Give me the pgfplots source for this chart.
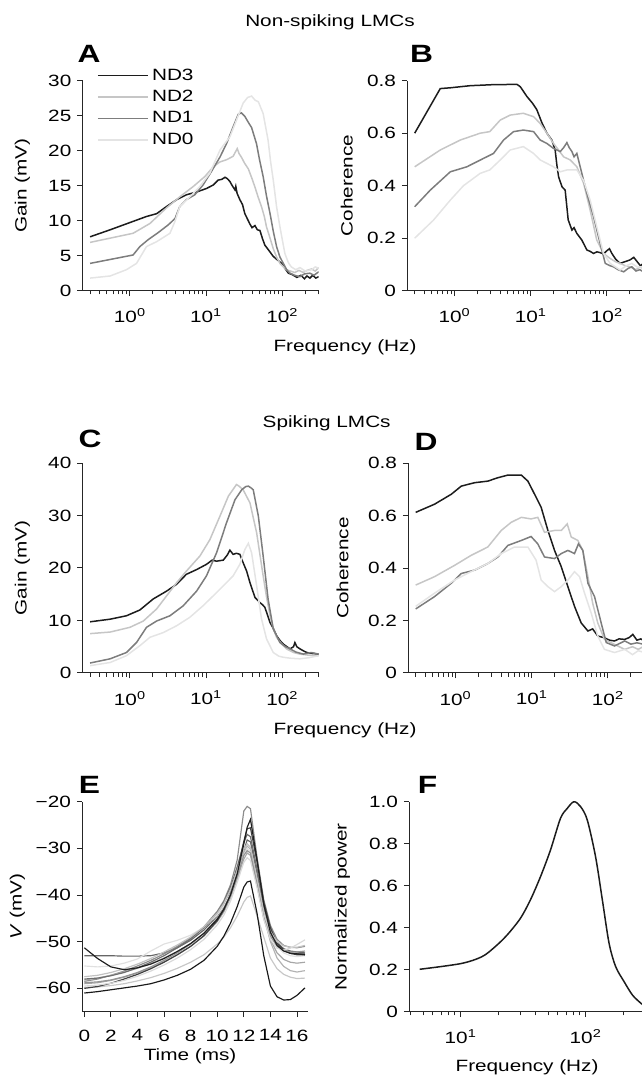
\documentclass[border=0pt]{standalone}
\usepackage{pgfplots}
\pgfplotsset{compat=1.18}
\usepackage{pgfplotstable}
\usepackage{fontspec}
\setmainfont{Liberation Sans}[FakeStretch=1.27]
\newcommand\tf{\fontsize{9.8}{11.8}\selectfont}
\definecolor{nd3}{HTML}{1C1C1C}
\definecolor{nd2}{HTML}{C6C6C6}
\definecolor{nd1}{HTML}{7D7D7D}
\definecolor{nd0}{HTML}{E4E4E4}
\pgfplotsset{
  panel/.style={scale only axis, axis lines=left, axis line style={-, line width=0.6pt, black!85},
    tick align=outside, tick style={line width=0.6pt, black!85}, major tick length=3.3pt, minor tick length=2.2pt,
    tick label style={font=\tf}, label style={font=\tf}, /pgf/number format/assume math mode=true, clip=true,
    xticklabel shift=4pt},
  freqax/.style={panel, xmin=0.24, xmax=300, width=141.6pt, height=126pt,
    xtick={1,10,100}, xticklabels={{10\textsuperscript{0}},{10\textsuperscript{1}},{10\textsuperscript{2}}},
    minor xtick={0.3,0.4,0.5,0.6,0.7,0.8,0.9,2,3,4,5,6,7,8,9,20,30,40,50,60,70,80,90,200,300}},
  s3/.style={color=nd3, line width=0.9pt},
  s2/.style={color=nd2, line width=0.9pt},
  s1/.style={color=nd1, line width=0.9pt},
  s0/.style={color=nd0, line width=0.9pt},
}
\pgfplotstableread{
t a b c d e f g h i j k l m
0 -61.0 -51.3 -53.0 -58.5 -59.8 -58.2 -55.2 -58.0 -59.0 -60.0 -57.5 -58.8 -59.5
1 -60.7 -53.6 -53.0 -58.0 -59.7 -57.8 -55.4 -57.8 -58.8 -59.6 -57.2 -58.6 -59.3
2 -60.3 -55.4 -53.0 -57.2 -59.4 -57.2 -55.2 -57.3 -58.3 -58.9 -56.6 -58.2 -58.9
3 -59.9 -56.0 -53.1 -56.3 -59.0 -56.5 -54.6 -56.6 -57.6 -58.0 -55.8 -57.5 -58.3
4 -59.5 -55.6 -53.1 -55.2 -58.4 -55.7 -53.7 -55.6 -56.7 -57.0 -54.8 -56.6 -57.4
5 -59.0 -54.8 -53.0 -54.0 -57.7 -54.7 -52.0 -54.4 -55.6 -55.8 -53.6 -55.4 -56.3
6 -58.2 -53.6 -52.4 -52.6 -56.8 -53.5 -50.5 -53.0 -54.3 -54.4 -52.2 -54.0 -55.0
7 -57.2 -52.1 -51.3 -51.0 -55.7 -52.1 -49.7 -51.3 -52.8 -52.8 -50.7 -52.4 -53.5
8 -55.9 -50.4 -49.7 -49.2 -54.4 -50.4 -48.6 -49.4 -51.0 -51.0 -49.0 -50.5 -51.7
9 -54.0 -48.2 -47.5 -46.8 -52.8 -48.2 -46.9 -47.0 -48.8 -48.7 -46.8 -48.2 -49.5
10 -51.0 -45.2 -44.5 -43.5 -50.5 -45.2 -44.3 -43.8 -45.7 -45.5 -43.9 -45.0 -46.4
10.5 -48.8 -43.0 -42.3 -41.2 -49.0 -43.1 -42.3 -41.5 -43.6 -43.2 -41.8 -42.9 -44.3
11 -46.0 -40.0 -39.3 -37.8 -47.0 -40.2 -39.6 -38.3 -40.6 -39.8 -38.8 -39.9 -41.3
11.5 -42.5 -35.5 -35.2 -32.5 -44.5 -36.2 -35.6 -34.0 -36.6 -35.0 -34.8 -36.0 -37.3
12 -38.3 -29.0 -30.5 -22.0 -41.5 -31.0 -31.5 -28.8 -32.3 -28.5 -30.2 -31.5 -33.0
12.25 -37.2 -25.5 -28.2 -21.0 -40.5 -29.5 -30.0 -27.0 -31.0 -25.8 -29.0 -30.5 -32.0
12.5 -37.0 -23.8 -28.6 -21.5 -40.2 -30.2 -30.8 -27.5 -31.5 -25.6 -29.8 -31.0 -32.6
13 -44.0 -32.5 -35.5 -32.0 -44.5 -37.5 -37.0 -34.5 -38.0 -33.0 -36.5 -37.8 -38.5
13.5 -53.0 -42.0 -42.8 -41.0 -49.0 -44.5 -44.0 -42.5 -45.0 -41.5 -43.5 -44.8 -45.2
14 -59.5 -48.0 -47.5 -46.5 -53.5 -50.0 -48.5 -47.5 -49.5 -47.0 -47.8 -48.8 -49.5
14.5 -61.8 -50.8 -50.2 -49.5 -55.8 -53.5 -51.0 -50.5 -52.4 -50.3 -50.0 -51.0 -51.4
15 -62.5 -52.0 -51.5 -50.8 -57.0 -55.3 -52.4 -51.8 -53.8 -51.8 -50.9 -51.9 -51.8
15.5 -62.4 -52.5 -52.0 -51.2 -57.6 -56.2 -53.0 -52.4 -54.4 -52.5 -51.2 -52.2 -51.4
16 -61.5 -52.6 -52.2 -51.3 -57.9 -56.5 -53.2 -52.6 -54.6 -52.8 -51.2 -52.2 -50.6
16.6 -59.9 -52.8 -52.4 -51.0 -57.8 -56.2 -53.0 -52.5 -54.4 -52.8 -50.8 -52.0 -49.6
}\spikes
\begin{document}
\begin{tikzpicture}
\path[use as bounding box] (0,0) rectangle (385.2pt,648pt);
% ---------------- A ----------------
\begin{axis}[xmode=log, freqax, at={(49.62pt,473.58pt)}, anchor=south west, ymin=0, ymax=30,
  ytick={0,5,10,15,20,25,30}, yticklabels={0,5,10,15,20,25,30},
  legend style={at={(axis description cs:0.06,1.075)}, anchor=north west, draw=none, fill=none,
    inner sep=0pt, row sep=0.6pt, font=\tf, cells={anchor=west}},
  legend image code/.code={\draw[#1] (0pt,0pt) -- (30pt,0pt);}]
\addplot[s3] coordinates {(0.3,7.7)(0.55,8.7)(1.1,9.9)(1.65,10.6)(2.24,11.0)(3.0,12.0)(4.1,13.0)(5.5,13.7)(7.5,14.1)(10.1,14.6)(12.4,15.1)(14.4,15.8)(16,15.9)(17.7,16.2)(19,16.0)(20.5,15.6)(22,15.0)(23.9,14.4)(24.5,14.9)(25.5,13.9)(27.7,13.0)(30,12.3)(32.2,11.0)(35,10.2)(37.6,9.5)(40,9.0)(43.7,9.3)(47,8.7)(50.8,8.6)(55,7.4)(59,6.5)(66,5.8)(76,4.9)(86,4.4)(98,3.9)(108,3.2)(120,2.5)(135,2.3)(155,1.9)(175,2.2)(195,1.7)(210,2.1)(230,1.8)(250,2.2)(275,1.8)(300,2.0)};
\addlegendentry{ND3}
\addplot[s2] coordinates {(0.3,6.9)(1.1,8.2)(1.83,9.6)(3.0,11.8)(4.5,13.4)(6.8,14.9)(9.6,16.3)(12.4,17.7)(15.2,18.4)(18.5,18.7)(22.6,19.2)(25.6,20.3)(27,19.6)(29.3,19.0)(32,18.2)(35.8,17.4)(40,16.0)(43.7,14.8)(48,13.4)(53.3,12.0)(58,10.6)(62,9.1)(69,7.5)(76,6.0)(84,4.8)(93,3.9)(103,3.4)(113,3.0)(128,2.8)(146,2.6)(165,2.9)(188,2.6)(210,2.9)(242,3.1)(270,2.8)(300,3.3)};
\addlegendentry{ND2}
\addplot[s1] coordinates {(0.3,3.9)(1.1,5.1)(1.35,6.3)(1.74,7.3)(2.35,8.3)(3.18,9.4)(3.9,10.3)(4.5,12.0)(5.5,13.0)(7.1,13.7)(9.1,15.1)(11.7,17.0)(15.2,19.1)(18.5,21.0)(22.6,23.4)(26.4,25.2)(29,25.4)(32.2,24.9)(36,24.0)(39.5,23.3)(45.8,21.0)(50,18.8)(56,16.3)(62,13.5)(69,11.0)(76,8.5)(84,6.3)(93,4.8)(103,3.9)(114,3.0)(126,2.5)(145,2.2)(170,2.0)(195,2.4)(230,2.5)(260,2.2)(300,2.7)};
\addlegendentry{ND1}
\addplot[s0] coordinates {(0.3,1.8)(0.55,2.1)(0.9,3.0)(1.22,3.9)(1.65,6.3)(2.24,7.0)(3.35,8.2)(3.9,9.9)(4.5,12.0)(6.1,13.4)(8.3,14.9)(11.2,16.8)(15.2,20.1)(20.5,22.0)(25.1,24.4)(30.6,26.8)(35,27.6)(39.5,27.8)(44,27.2)(48.4,27.0)(56,25.3)(65,21.5)(70,18.5)(76,15.8)(84,12.0)(93,9.1)(108,5.3)(120,4.0)(131,3.4)(150,3.0)(170,3.3)(200,2.8)(242,3.0)(270,3.4)(300,3.2)};
\addlegendentry{ND0}
\end{axis}
% ---------------- B ----------------
\begin{axis}[xmode=log, freqax, at={(244.38pt,473.58pt)}, anchor=south west, ymin=0, ymax=0.8,
  ytick={0,0.2,0.4,0.6,0.8}, yticklabels={0,0.2,0.4,0.6,0.8},
  xlabel={Frequency (Hz)}, xlabel style={at={(axis description cs:-0.264,-0.27)}, anchor=center}]
\addplot[s3] coordinates {(0.3,0.60)(0.65,0.77)(0.88,0.773)(1.6,0.781)(3.25,0.785)(6.6,0.786)(7.3,0.777)(8.9,0.74)(10.5,0.715)(12,0.69)(14,0.64)(16.3,0.60)(18.9,0.574)(20.9,0.536)(22,0.48)(23.2,0.434)(25.7,0.396)(28.3,0.383)(31,0.27)(34.7,0.231)(37,0.24)(40.3,0.218)(46.8,0.193)(54.6,0.155)(60,0.15)(66.7,0.142)(74,0.148)(81.4,0.145)(90,0.14)(99.5,0.152)(108,0.16)(116,0.142)(130,0.12)(149,0.104)(170,0.11)(200,0.117)(225,0.127)(250,0.11)(275,0.095)(300,0.104)};
\addplot[s2] coordinates {(0.3,0.472)(0.65,0.536)(1.19,0.574)(2.17,0.60)(2.9,0.606)(3.98,0.65)(5.37,0.669)(8.0,0.676)(10.9,0.663)(13.3,0.637)(16.3,0.60)(19.9,0.561)(23.2,0.536)(27,0.51)(33,0.498)(40.3,0.472)(49.3,0.41)(60.2,0.307)(73.5,0.193)(90,0.142)(110,0.123)(130,0.11)(149,0.104)(175,0.095)(200,0.091)(240,0.08)(270,0.09)(300,0.085)};
\addplot[s1] coordinates {(0.3,0.32)(0.48,0.383)(0.88,0.453)(1.45,0.472)(2.4,0.504)(3.25,0.523)(4.4,0.574)(5.95,0.606)(8.0,0.612)(10.9,0.606)(13.3,0.574)(16.3,0.561)(19.9,0.542)(24.4,0.53)(27,0.545)(29.8,0.564)(32,0.545)(34.7,0.53)(37,0.51)(40.3,0.523)(46.8,0.447)(54.6,0.371)(66.7,0.282)(81.4,0.18)(95,0.104)(110,0.095)(122,0.091)(140,0.08)(166,0.072)(190,0.085)(212,0.091)(240,0.075)(270,0.08)(300,0.072)};
\addplot[s0] coordinates {(0.3,0.2)(0.53,0.269)(0.88,0.345)(1.31,0.40)(2.17,0.447)(2.9,0.46)(3.98,0.498)(5.37,0.536)(8.0,0.549)(10.9,0.523)(13.3,0.498)(16.3,0.485)(19.9,0.472)(24.4,0.453)(29.8,0.46)(40.3,0.46)(49.3,0.42)(60.2,0.345)(73.5,0.244)(90,0.142)(110,0.104)(130,0.09)(149,0.079)(180,0.095)(212,0.104)(250,0.09)(300,0.091)};
\end{axis}
% ---------------- C ----------------
\begin{axis}[xmode=log, freqax, at={(49.62pt,244.2pt)}, anchor=south west, ymin=0, ymax=40,
  ytick={0,10,20,30,40}, yticklabels={0,10,20,30,40}]
\addplot[s3] coordinates {(0.3,9.75)(0.55,10.25)(0.9,10.9)(1.35,12.0)(2.02,14.1)(3.03,15.6)(4.1,16.9)(5.5,18.8)(7.5,19.7)(10.1,20.7)(12,21.5)(13.7,21.3)(16.8,21.5)(19,22.5)(20.5,23.4)(22.6,22.6)(25,22.8)(27.7,22.6)(30.6,21.0)(34,19.4)(37.6,17.2)(43.7,14.4)(50.8,13.4)(55,13.0)(59,12.5)(64,11.0)(69,9.6)(76,8.5)(84,7.1)(93,6.2)(103,5.5)(115,5.0)(126,4.6)(140,5.0)(146,5.8)(155,5.0)(170,4.6)(190,4.2)(210,3.9)(250,3.7)(300,3.6)};
\addplot[s2] coordinates {(0.3,7.5)(0.55,7.8)(1.0,8.7)(1.5,9.9)(2.24,12.2)(3.03,14.7)(4.1,17.2)(5.5,19.4)(8.3,22.3)(11.2,25.4)(15.2,29.9)(19.6,33.7)(25,35.9)(27,35.6)(30.6,34.9)(37.6,32.4)(46,26.7)(56,18.5)(62,14.5)(69,10.9)(76,8.5)(84,6.8)(97,5.6)(113,4.6)(140,3.9)(170,3.6)(220,3.4)(300,3.3)};
\addplot[s1] coordinates {(0.3,1.9)(0.55,2.7)(0.9,3.9)(1.22,5.8)(1.65,8.7)(2.24,9.9)(3.35,10.9)(5.0,12.8)(7.5,15.6)(10.1,18.5)(13.7,22.9)(18.5,28.6)(23.9,33.0)(29.3,34.9)(33,35.5)(35.8,35.6)(38.5,35.3)(41.5,34.9)(48.4,29.9)(56,22.3)(65,14.1)(76,8.4)(93,5.8)(110,5.0)(126,4.6)(150,4.0)(188,3.6)(240,3.9)(300,3.6)};
\addplot[s0] coordinates {(0.3,1.4)(0.55,2.0)(0.9,3.3)(1.35,5.2)(1.83,6.8)(2.74,7.7)(4.1,9.0)(6.1,10.6)(9.1,12.8)(12.4,14.7)(16.8,16.6)(22.6,18.5)(27.7,20.7)(32.2,23.5)(35.8,24.7)(39.5,22.9)(46,16.6)(53.3,10.3)(62,6.5)(76,3.9)(90,3.2)(103,3.0)(130,2.8)(170,2.7)(220,2.9)(300,3.3)};
\end{axis}
% ---------------- D ----------------
\begin{axis}[xmode=log, freqax, at={(244.98pt,244.2pt)}, anchor=south west, ymin=0, ymax=0.8,
  ytick={0,0.2,0.4,0.6,0.8}, yticklabels={0,0.2,0.4,0.6,0.8},
  xlabel={Frequency (Hz)}, xlabel style={at={(axis description cs:-0.268,-0.271)}, anchor=center}]
\addplot[s3] coordinates {(0.3,0.612)(0.53,0.643)(0.88,0.681)(1.19,0.712)(1.78,0.725)(2.65,0.731)(3.6,0.744)(4.86,0.754)(7.3,0.754)(8.9,0.731)(10.9,0.681)(13.3,0.631)(16.3,0.543)(19.9,0.467)(24.4,0.405)(29.8,0.329)(36.4,0.254)(44.5,0.191)(54.6,0.16)(63,0.168)(73.5,0.141)(90,0.134)(105,0.125)(122,0.122)(140,0.13)(166,0.128)(190,0.135)(212,0.147)(240,0.125)(270,0.13)(300,0.122)};
\addplot[s2] coordinates {(0.3,0.335)(0.53,0.367)(0.97,0.41)(1.6,0.448)(2.65,0.48)(3.98,0.543)(5.37,0.574)(7.3,0.593)(9.8,0.587)(12,0.593)(14.7,0.536)(19.9,0.543)(24.4,0.543)(29.2,0.568)(33,0.518)(40.3,0.505)(46.8,0.467)(54.6,0.367)(63,0.266)(73.5,0.191)(90,0.128)(122,0.109)(166,0.09)(210,0.1)(250,0.09)(300,0.103)};
\addplot[s1] coordinates {(0.3,0.244)(0.53,0.291)(0.88,0.342)(1.19,0.379)(1.78,0.392)(2.65,0.417)(3.6,0.442)(4.86,0.486)(7.3,0.505)(9.8,0.52)(12,0.492)(14.7,0.442)(19.9,0.436)(24.4,0.455)(29.8,0.467)(36.4,0.455)(41,0.492)(46.8,0.467)(54.6,0.342)(66.7,0.291)(81.4,0.191)(95,0.116)(122,0.103)(166,0.122)(200,0.11)(240,0.115)(300,0.109)};
\addplot[s0] coordinates {(0.3,0.254)(0.53,0.304)(0.97,0.354)(1.6,0.386)(2.65,0.417)(3.98,0.455)(5.95,0.48)(8.9,0.48)(11.4,0.43)(13.3,0.354)(16.3,0.329)(19.9,0.31)(24.4,0.329)(29.8,0.354)(36.4,0.386)(42.4,0.367)(49.3,0.304)(60.2,0.229)(73.5,0.141)(90,0.09)(122,0.078)(166,0.09)(210,0.07)(250,0.085)(300,0.078)};
\end{axis}
% ---------------- E ----------------
\begin{axis}[panel, at={(49.38pt,40.98pt)}, anchor=south west, width=135.6pt, height=126pt,
  xmin=-0.15, xmax=16.85, ymin=-65, ymax=-20,
  xtick={0,2,4,6,8,10,12,14,16}, xticklabels={0,2,4,6,8,10,12,14,16},
  ytick={-60,-50,-40,-30,-20}, yticklabels={−60,−50,−40,−30,−20},
  xlabel={Time (ms)}, xlabel style={at={(axis description cs:0.477,-0.211)}, anchor=center},
  every axis plot/.append style={line width=0.7pt}]
\addplot[color=black!60] table[x=t,y=c] {\spikes};
\addplot[color=black!45] table[x=t,y=d] {\spikes};
\addplot[color=black!22] table[x=t,y=e] {\spikes};
\addplot[color=black!30] table[x=t,y=f] {\spikes};
\addplot[color=black!12] table[x=t,y=g] {\spikes};
\addplot[color=black!57] table[x=t,y=h] {\spikes};
\addplot[color=black!35] table[x=t,y=i] {\spikes};
\addplot[color=black!75] table[x=t,y=j] {\spikes};
\addplot[color=black!24] table[x=t,y=k] {\spikes};
\addplot[color=black!42] table[x=t,y=l] {\spikes};
\addplot[color=black!15] table[x=t,y=m] {\spikes};
\addplot[color=black!90] table[x=t,y=a] {\spikes};
\addplot[color=black!88] table[x=t,y=b] {\spikes};
\end{axis}
% ---------------- F ----------------
\begin{axis}[xmode=log, panel, at={(245.58pt,40.98pt)}, anchor=south west, width=141.6pt, height=126pt,
  xmin=3.88, xmax=300, ymin=0, ymax=1,
  xtick={10,100}, xticklabels={{10\textsuperscript{1}},{10\textsuperscript{2}}},
  minor xtick={4,5,6,7,8,9,20,30,40,50,60,70,80,90,200,300},
  ytick={0,0.2,0.4,0.6,0.8,1}, yticklabels={0,0.2,0.4,0.6,0.8,1.0},
  xlabel={Frequency (Hz)}, xlabel style={at={(axis description cs:0.499,-0.266)}, anchor=center}]
\addplot[color=nd3, line width=0.9pt, smooth] coordinates {(4.7,0.202)(10,0.229)(14.8,0.262)(18.9,0.31)(23.5,0.365)(30,0.444)(36.1,0.532)(43.5,0.643)(52.3,0.77)(62.9,0.921)(71.2,0.968)(80.6,1.0)(91.2,0.976)(103,0.913)(120,0.738)(136,0.532)(154,0.325)(174,0.214)(203,0.143)(237,0.079)(277,0.04)(300,0.025)};
\end{axis}
% ---------------- texts ----------------
\node[font=\tf, anchor=base] at (198pt,631.8pt) {Non-spiking LMCs};
\node[font=\tf, anchor=base] at (196pt,391.2pt) {Spiking LMCs};
\node[font=\tf, rotate=90] at (13.5pt,536.6pt) {Gain (mV)};
\node[font=\tf, rotate=90] at (208pt,536.6pt) {Coherence};
\node[font=\tf, rotate=90] at (13.5pt,307.2pt) {Gain (mV)};
\node[font=\tf, rotate=90] at (205.5pt,307.2pt) {Coherence};
\node[font=\tf, rotate=90] at (10.5pt,104pt) {\textit{V} (mV)};
\node[font=\tf, rotate=90] at (205.5pt,104pt) {Normalized power};
\node[font=\fontsize{15}{15}\selectfont\bfseries] at (53.4pt,615.6pt) {A};
\node[font=\fontsize{15}{15}\selectfont\bfseries] at (252.9pt,615.6pt) {B};
\node[font=\fontsize{15}{15}\selectfont\bfseries] at (54pt,384.9pt) {C};
\node[font=\fontsize{15}{15}\selectfont\bfseries] at (255.6pt,382.8pt) {D};
\node[font=\fontsize{15}{15}\selectfont\bfseries] at (53.7pt,177.3pt) {E};
\node[font=\fontsize{15}{15}\selectfont\bfseries] at (256.5pt,177pt) {F};
\end{tikzpicture}
\end{document}
